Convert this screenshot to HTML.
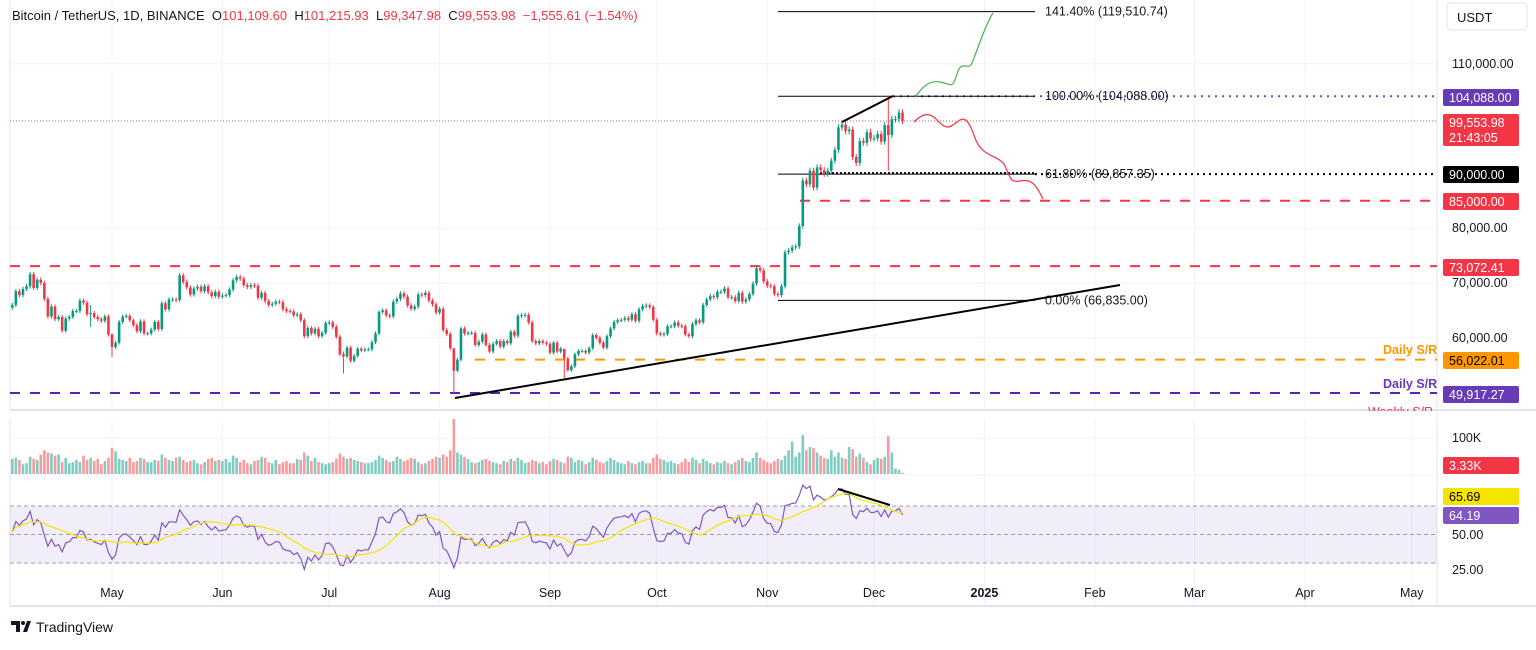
<!DOCTYPE html>
<html><head><meta charset="utf-8"><style>
body{margin:0;background:#fff;width:1536px;height:645px;overflow:hidden;font-family:"Liberation Sans",sans-serif}
svg text{font-family:"Liberation Sans",sans-serif}
</style></head><body>
<svg id="c" width="1536" height="645" xmlns="http://www.w3.org/2000/svg"></svg>
<script>
// ---- data (daily, starting 2024-04-03) ----
const closes=[66.0,68.5,67.8,68.9,69.4,71.6,69.1,70.6,70.0,67.1,
63.9,65.7,63.4,63.8,61.3,63.5,63.8,64.9,64.9,66.8,
66.4,64.3,64.5,63.8,63.4,63.1,63.9,60.6,58.3,59.1,
62.9,63.9,64.0,63.2,62.3,61.2,63.0,60.8,60.8,61.5,
62.9,61.6,66.3,65.2,67.0,67.0,66.9,71.4,70.2,69.2,
67.9,69.0,69.3,68.5,69.4,68.3,67.6,68.4,67.5,67.7,
67.8,68.8,70.5,71.1,70.8,69.6,69.3,69.6,69.5,67.3,
68.2,66.7,66.0,66.2,66.6,66.5,65.2,64.9,64.8,64.1,
64.3,63.2,60.3,61.8,60.8,61.6,60.3,60.9,62.7,62.8,
62.0,60.2,57.0,56.6,58.2,55.8,56.7,58.0,57.7,57.9,
57.9,59.2,60.8,64.7,65.0,64.1,63.9,66.6,67.1,68.1,
67.5,65.9,65.3,65.7,67.9,67.8,68.2,66.8,66.1,64.6,
65.3,61.4,60.7,58.1,54.0,56.0,61.7,60.8,60.9,60.9,
58.7,59.3,60.6,58.7,57.5,58.9,59.4,58.4,59.4,59.0,
61.1,60.4,64.0,64.1,64.2,62.8,59.4,59.0,59.4,59.1,
58.9,57.3,59.1,57.5,58.0,56.2,54.1,54.8,57.0,57.6,
57.6,57.3,58.1,60.5,60.0,59.1,58.2,60.3,61.7,62.9,
63.2,63.3,63.6,63.3,64.3,63.1,65.2,65.8,65.9,65.6,
63.3,60.8,60.6,60.7,62.1,62.1,62.8,62.2,62.1,60.6,
60.3,62.5,63.2,62.8,66.0,67.0,67.6,67.4,68.4,68.4,
69.0,67.4,67.4,66.7,68.2,66.6,67.0,68.0,69.9,72.7,
72.3,70.3,69.5,69.4,68.0,67.8,69.4,75.6,75.9,76.5,
76.7,80.4,88.7,88.0,90.5,87.4,91.1,90.6,89.9,90.5,
92.3,94.3,98.4,98.9,97.7,98.0,93.0,91.9,95.9,95.6,
97.5,96.4,96.4,97.2,95.8,98.8,97.0,99.9,99.9,101.1,
99.6];
const firstOpen=65.5;
const notableWicks=[[124,49.9,55.5],[246,90.5,104.1],[155,52.5,56.5],[22,62.0,66.0],[28,56.5,60.8],[93,53.5,57.5]];
const volumes=[42,45,39,27,30,48,42,39,54,66,
60,57,51,54,33,45,30,33,39,33,
51,39,45,36,42,27,36,45,72,63,
42,39,36,45,33,36,45,42,33,33,
39,36,54,45,39,36,45,48,39,33,
36,39,30,27,33,42,45,36,39,36,
42,33,51,45,33,39,30,27,36,39,
48,45,33,30,39,27,33,36,30,30,
42,39,60,51,36,45,33,30,27,30,
33,42,57,48,42,45,39,36,33,30,
30,33,39,51,45,39,33,36,48,42,
36,39,45,42,33,27,30,36,42,48,
45,54,48,66,155,60,54,48,42,33,
30,33,39,42,36,33,30,27,36,33,
42,36,45,39,30,33,39,36,30,33,
27,36,42,39,33,30,48,45,33,39,
36,27,33,45,39,33,30,36,45,39,
33,30,27,36,30,27,33,36,30,30,
45,54,42,39,33,36,30,27,33,42,
33,45,39,30,42,36,30,27,33,30,
36,30,27,33,39,45,36,33,45,60,
45,39,33,30,36,42,39,51,66,90,
48,60,108,66,75,72,60,51,45,42,
66,48,60,45,42,75,69,48,57,45,
33,27,39,45,42,48,105,60,15,12,
3.33];
const monthLabels=["May","Jun","Jul","Aug","Sep","Oct","Nov","Dec","2025","Feb","Mar","Apr","May"];
const monthDays=[28,59,89,120,151,181,212,242,273,304,332,363,393];
const priceTicks=[110000,80000,70000,60000];

// ---- axes ----
const xd=d=>112+(d-28)*3.561;
const yp=p=>283-(p-70000)*0.00548;
const yk=k=>283-(k*1000-70000)*0.00548;
const yv=v=>474-v*0.36;
const yr=r=>506+(70-r)*1.425;
const NS="http://www.w3.org/2000/svg";
const svg=document.getElementById('c');
function mk(tag,attrs,parent){const e=document.createElementNS(NS,tag);for(const k in attrs)e.setAttribute(k,attrs[k]);(parent||svg).appendChild(e);return e;}
function tx(str,x,y,attrs,parent){const e=mk('text',Object.assign({x:x,y:y,'font-size':12,fill:'#131722'},attrs||{}),parent);e.textContent=str;return e;}

// grid
const grid=mk('g',{});


monthDays.forEach(d=>mk('line',{x1:xd(d),x2:xd(d),y1:0,y2:605,stroke:'#f0f3fa'},grid));
priceTicks.forEach(p=>mk('line',{x1:10,x2:1437,y1:yp(p),y2:yp(p),stroke:'#f0f3fa'},grid));
mk('line',{x1:10,x2:1437,y1:438,y2:438,stroke:'#f0f3fa'},grid);
mk('line',{x1:10,x2:1437,y1:475,y2:475,stroke:'#f0f3fa'},grid);
mk('line',{x1:10,x2:1536,y1:410,y2:410,stroke:'#e0e3eb','stroke-width':2});
mk('line',{x1:10,x2:1536,y1:606,y2:606,stroke:'#e0e3eb','stroke-width':2});
mk('line',{x1:1437,x2:1437,y1:0,y2:606,stroke:'#e0e3eb'});
mk('line',{x1:10,x2:10,y1:0,y2:606,stroke:'#e0e3eb'});

// RSI band
const band=mk('rect',{x:10,y:yr(70),width:1427,height:yr(30)-yr(70),fill:'#7e57c2','fill-opacity':0.1});


[70,50,30].forEach(r=>mk('line',{x1:10,x2:1437,y1:yr(r),y2:yr(r),stroke:'#787b86','stroke-dasharray':'4 3','stroke-opacity':0.7}));

// horizontal levels
function hline(p,x1,color,dash,name,w){const l=mk('line',{x1:x1,x2:1437,y1:yp(p),y2:yp(p),stroke:color,'stroke-width':w||2,'stroke-dasharray':dash});return l;}
hline(99553.98,10,'#f7525f','1 2','last-price-line',1);
hline(104088,893,'#7e3fd4','2 5','fib-100-extension');
hline(89857,1035,'#000','2 4','level-90000-line');
hline(85000,800,'#f23645','10 10','level-85000-line');
hline(73072.41,10,'#f23645','10 10','level-73072-line');
hline(56022.01,475,'#ff9800','10 10','daily-sr-56022-line');
hline(49917.27,10,'#5b1fc4','10 10','daily-sr-49917-line');

// fib lines
[[119510.74,'141.40% (119,510.74)'],[104088,'100.00% (104,088.00)'],[89857.35,'61.80% (89,857.35)'],[66835,'0.00% (66,835.00)']].forEach(f=>{
 const l=mk('line',{x1:778,x2:1035,y1:yp(f[0]),y2:yp(f[0]),stroke:'#000','stroke-width':1});
 
 
 const t=tx(f[1],1045,yp(f[0])+4,{'font-size':12.5});
 
 
});
mk('line',{x1:820,x2:1035,y1:yp(89857)-1,y2:yp(89857)-1,stroke:'#000','stroke-width':2,'stroke-dasharray':'2 2'});

// trendline
const tl=mk('line',{x1:455,y1:398,x2:1120,y2:285,stroke:'#000','stroke-width':2});



// candles + volume
const cg=mk('g',{});


closes.forEach((c,i)=>{
 const o=i===0?firstOpen:closes[i-1];
 let hi=Math.max(o,c)*1.006,lo=Math.min(o,c)*0.994;
 notableWicks.forEach(w=>{if(w[0]===i){lo=w[1];hi=w[2];}});
 const up=c>=o,col=up?'#089981':'#f23645',x=xd(i);
 mk('line',{x1:x,x2:x,y1:yk(hi),y2:yk(lo),stroke:col,'stroke-width':1},cg);
 const y1=yk(Math.max(o,c)),y2=yk(Math.min(o,c));
 const r=mk('rect',{x:x-1.3,y:y1,width:2.6,height:Math.max(1,y2-y1),fill:col},cg);
 
 
 const v=volumes[i];
 const vb=mk('rect',{x:x-1.3,y:yv(v),width:2.6,height:474-yv(v),fill:up?'#7fccc0':'#f89b9f'},cg);
 
 
});

// RSI(14) Wilder + SMA14
const rsi=[];let ag=0.55,al=0.55;
closes.forEach((c,i)=>{const p=i===0?firstOpen:closes[i-1];const ch=c-p;
 ag=(ag*13+Math.max(ch,0))/14;al=(al*13+Math.max(-ch,0))/14;rsi.push(al===0?100:100-100/(1+ag/al));});
const ma=rsi.map((_,i)=>{const s=rsi.slice(Math.max(0,i-13),i+1);return s.reduce((a,b)=>a+b,0)/s.length;});
const rl=mk('polyline',{points:rsi.map((r,i)=>xd(i)+','+yr(r)).join(' '),fill:'none',stroke:'#7e57c2','stroke-width':1.2});


const ml=mk('polyline',{points:ma.map((r,i)=>xd(i)+','+yr(r)).join(' '),fill:'none',stroke:'#f5e300','stroke-width':1.2});



// pattern drawings
const d1=mk('line',{x1:842,y1:122,x2:893,y2:96,stroke:'#000','stroke-width':2});


const d2=mk('line',{x1:838,y1:489,x2:890,y2:505,stroke:'#000','stroke-width':2});


const gp=mk('path',{d:'M915,97 C922,88 928,80 940,82 S952,90 957,74 S968,72 972,63 S985,25 993,13',fill:'none',stroke:'#4caf50','stroke-width':1.2});


const rp=mk('path',{d:'M914,122 C920,116 928,110 937,120 S950,128 957,122 S968,118 975,138 S1000,155 1005,166 S1010,183 1020,181 S1035,182 1043,199',fill:'none',stroke:'#f23645','stroke-width':1.2});



// right axis labels
priceTicks.forEach(p=>tx(p.toLocaleString('en-US')+'.00',1452,yp(p)+4,{'font-size':12.5}));
tx('100K',1452,442,{'font-size':12.5});
tx('50.00',1452,539,{'font-size':12.5});
tx('25.00',1452,574,{'font-size':12.5});
function tag(str,y,bg,fg,name,h){const g=mk('g',{});
 mk('rect',{x:1443,y:y,width:76,height:h||17,rx:2,fill:bg},g);tx(str,1449,y+13,{fill:fg,'font-size':12.5},g);return g;}
tag('104,088.00',89,'#673ab7','#fff','tag-104088');
const t2=tag('99,553.98',114,'#f23645','#fff','tag-last-price',32);tx('21:43:05',1449,142,{fill:'#fff','font-size':12.5},t2);
tag('90,000.00',166,'#000','#fff','tag-90000');
tag('85,000.00',193,'#f23645','#fff','tag-85000');
tag('73,072.41',259,'#f23645','#fff','tag-73072');
tag('56,022.01',352,'#ff9800','#000','tag-56022');
tag('49,917.27',386,'#673ab7','#fff','tag-49917');
tag('3.33K',457,'#f23645','#fff','tag-volume');
tag('65.69',488,'#f5e300','#000','tag-rsi-ma');
tag('64.19',507,'#7e57c2','#fff','tag-rsi');
tx('Daily S/R',1383,354,{fill:'#ff9800','font-size':12.5,'font-weight':'bold'});
tx('Daily S/R',1383,388,{fill:'#673ab7','font-size':12.5,'font-weight':'bold'});
tx('Weekly S/R',1368,416,{fill:'#f23645','font-size':12.5});
mk('rect',{x:0,y:411,width:1437,height:8,fill:'#fff'});

// USDT box
const ub=mk('g',{});
mk('rect',{x:1447,y:3,width:80,height:27,rx:4,fill:'#fff',stroke:'#e0e3eb'},ub);
tx('USDT',1457,22,{'font-size':13},ub);

// time axis
monthLabels.forEach((m,i)=>{const t=tx(m,xd(monthDays[i]),597,{'text-anchor':'middle','font-size':12.5,'font-weight':m==='2025'?'bold':'normal'});
 });

// header
const hd=tx('',12,20,{'font-size':13});


hd.style.whiteSpace='pre';
[['Bitcoin / TetherUS, 1D, BINANCE  ','#131722'],['O','#131722'],['101,109.60  ','#f23645'],['H','#131722'],['101,215.93  ','#f23645'],['L','#131722'],['99,347.98  ','#f23645'],['C','#131722'],['99,553.98  −1,555.61 (−1.54%)','#f23645']].forEach(s=>{const e=mk('tspan',{fill:s[1]},hd);e.textContent=s[0];});

// logo
const lg=mk('g',{});
mk('path',{d:'M11,621 h9 v11 h-4 v-7 h-5z M23,632 l4,-11 h4 l-4,11z',fill:'#131722'},lg);
mk('circle',{cx:23,cy:623,r:2,fill:'#131722'},lg);
tx('TradingView',36,632,{'font-size':14,fill:'#131722'},lg);
</script>
</body></html>
